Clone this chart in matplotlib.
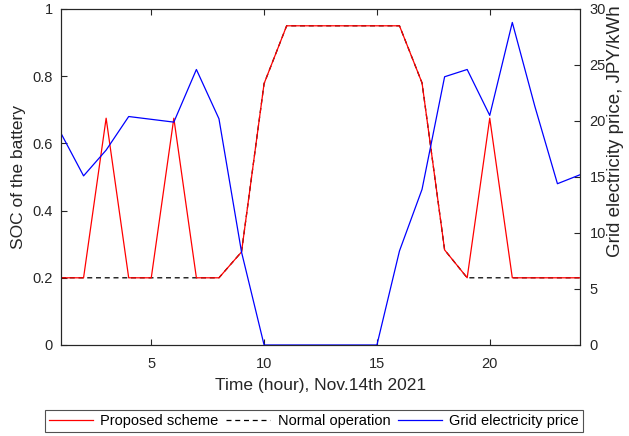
import matplotlib
matplotlib.use("Agg")
import matplotlib.pyplot as plt

hours = list(range(1, 25))
proposed = [0.2, 0.2, 0.675, 0.2, 0.2, 0.675, 0.2, 0.2, 0.277, 0.778, 0.95, 0.95,
            0.95, 0.95, 0.95, 0.95, 0.78, 0.283, 0.2, 0.675, 0.2, 0.2, 0.2, 0.2]
normal = [0.2, 0.2, 0.2, 0.2, 0.2, 0.2, 0.2, 0.2, 0.277, 0.778, 0.95, 0.95,
          0.95, 0.95, 0.95, 0.95, 0.78, 0.283, 0.2, 0.2, 0.2, 0.2, 0.2, 0.2]
price = [18.9, 15.1, 17.4, 20.4, 20.15, 19.9, 24.6, 20.2, 8.3, 0, 0, 0,
         0, 0, 0, 8.4, 13.9, 23.95, 24.6, 20.5, 28.8, 21.3, 14.4, 15.2]

plt.rcParams['font.family'] = ['Liberation Sans', 'DejaVu Sans']
axc = '#262626'

fig = plt.figure(figsize=(6.29, 4.36), dpi=100)
ax = fig.add_axes([61/629, 1-345/436, (580-61)/629, (345-9)/436])
ax2 = ax.twinx()

l1, = ax.plot(hours, proposed, color='#ff0000', lw=0.9, zorder=3)
l2, = ax.plot(hours, normal, color='black', lw=0.9, ls=(0, (4, 3)), zorder=2)
l3, = ax2.plot(hours, price, color='#0000ff', lw=0.9)

ax.set_xlim(1, 24)
ax.set_ylim(0, 1)
ax2.set_ylim(0, 30)
ax.set_xticks([5, 10, 15, 20])
ax.set_yticks([0, 0.2, 0.4, 0.6, 0.8, 1])
ax.set_yticklabels(['0', '0.2', '0.4', '0.6', '0.8', '1'])
ax2.set_yticks([0, 5, 10, 15, 20, 25, 30])

for a in (ax, ax2):
    for s in a.spines.values():
        s.set_color(axc)
        s.set_linewidth(0.8)
ax.tick_params(axis='x', direction='in', top=True, length=4, width=0.8, colors=axc, labelsize=10.5, pad=9)
ax.tick_params(axis='y', direction='in', length=4, width=0.8, colors=axc, labelsize=10.5, pad=6)
ax2.tick_params(axis='y', direction='in', length=4, width=0.8, colors=axc, labelsize=10.5, pad=7)

ax.set_xlabel('Time (hour), Nov.14th 2021', fontsize=12.5, color=axc, labelpad=5)
ax.set_ylabel('SOC of the battery', fontsize=12.5, color=axc)
ax.yaxis.set_label_coords(-0.068, 0.5)
ax2.set_ylabel('Grid electricity price, JPY/kWh', fontsize=13.5, color=axc)
ax2.yaxis.set_label_coords(1.052, 0.637)

leg = fig.legend([l1, l2, l3], ['Proposed scheme', 'Normal operation', 'Grid electricity price'],
                 loc='center', bbox_to_anchor=(314/629, 1-421/436), ncol=3, fontsize=10.5,
                 frameon=True, fancybox=False, edgecolor=axc, handlelength=3.0,
                 columnspacing=0.55, handletextpad=0.5, borderpad=0.3)
leg.get_frame().set_linewidth(0.8)

fig.savefig('out.png', dpi=100)
